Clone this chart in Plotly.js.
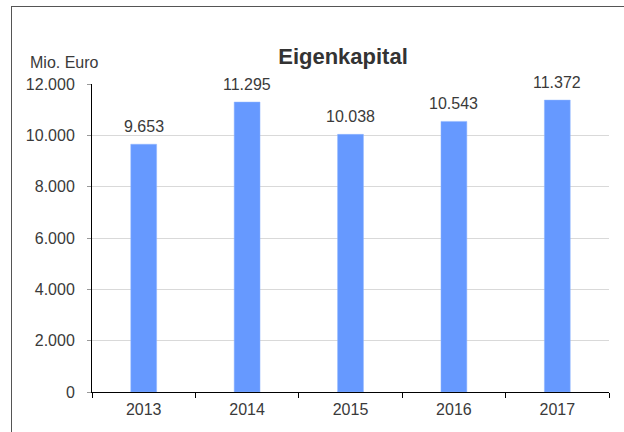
<!DOCTYPE html>
<html>
<head>
<meta charset="utf-8">
<script src="https://cdn.plot.ly/plotly-3.0.1.min.js"></script>
<style>
html,body{margin:0;padding:0;background:#fff;}
#frame{position:absolute;left:11px;top:6px;width:700px;height:500px;border-left:1px solid #555;border-top:1px solid #555;pointer-events:none;z-index:5;}
#chart{position:absolute;left:0;top:0;width:624px;height:432px;}
</style>
</head>
<body>
<div id="chart"></div>
<div id="frame"></div>
<script>
const years = ['2013','2014','2015','2016','2017'];
const equity = [9653, 11295, 10038, 10543, 11372];
const labels = ['9.653','11.295','10.038','10.543','11.372'];

const FONT = "'Liberation Sans', Arial, sans-serif";
const TXT = '#3a3a3a';

const trace = {
  type: 'bar',
  x: years,
  y: equity,
  width: 0.25,
  marker: {color: '#6699ff', line: {color: '#8fb4ff', width: 0.5}},
  hoverinfo: 'none'
};

const annotations = years.map((yr, i) => ({
  x: i, y: equity[i], xref: 'x', yref: 'y',
  text: labels[i], showarrow: false, yanchor: 'bottom', yshift: 7,
  font: {family: FONT, size: 16, color: TXT}
}));
annotations.push({
  x: (29 - 92) / (609 - 92), y: 1 + (84 - 62) / (392 - 84),
  xref: 'paper', yref: 'paper', text: 'Mio. Euro', showarrow: false,
  xanchor: 'left', yanchor: 'middle', xshift: -1,
  font: {family: FONT, size: 16, color: TXT}
});

const layout = {
  width: 624, height: 432,
  margin: {l: 92, r: 15, t: 84, b: 40},
  paper_bgcolor: '#ffffff', plot_bgcolor: '#ffffff',
  separators: ',.',
  showlegend: false,
  title: {
    text: '<b>Eigenkapital</b>',
    x: 343 / 624, xanchor: 'center',
    y: 1 - 56 / 432, yanchor: 'middle',
    font: {family: FONT, size: 22, color: '#333333'}
  },
  xaxis: {
    type: 'category',
    range: [-0.5, 4.5],
    showline: true, linecolor: '#000000', linewidth: 1,
    ticks: 'outside', tickson: 'boundaries', ticklen: 5, tickcolor: '#000000',
    showgrid: false,
    tickangle: 0,
    ticklabelstandoff: 3,
    tickfont: {family: FONT, size: 16, color: TXT},
    fixedrange: true
  },
  yaxis: {
    range: [0, 12000],
    tickvals: [0, 2000, 4000, 6000, 8000, 10000, 12000],
    ticktext: ['0', '2.000', '4.000', '6.000', '8.000', '10.000', '12.000'],
    showline: true, linecolor: '#000000', linewidth: 1,
    ticks: 'outside', ticklen: 4, tickcolor: '#999999',
    ticklabelstandoff: 9,
    showgrid: true, gridcolor: '#d9d9d9', gridwidth: 1,
    zeroline: false,
    tickfont: {family: FONT, size: 16, color: TXT},
    fixedrange: true
  },
  annotations: annotations
};

Plotly.newPlot('chart', [trace], layout, {displayModeBar: false, staticPlot: true});
</script>
</body>
</html>
